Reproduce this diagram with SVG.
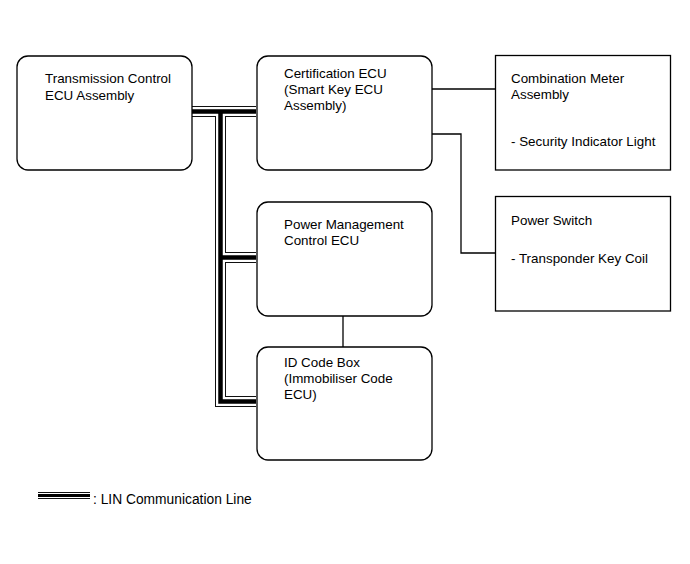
<svg xmlns="http://www.w3.org/2000/svg" width="690" height="564" viewBox="0 0 690 564">
<style>
.box{fill:#fff;stroke:#000;stroke-width:1.3}
.t{font-family:"Liberation Sans",Arial,sans-serif;font-size:13.4px;fill:#000}
.ln{fill:none;stroke:#000;stroke-width:1.3}
.lo{fill:none;stroke:#111;stroke-width:11;stroke-linejoin:miter}
.lw{fill:none;stroke:#fff;stroke-width:9;stroke-linejoin:miter}
.lc{fill:none;stroke:#000;stroke-width:4.5;stroke-linejoin:miter}
</style>
<rect width="690" height="564" fill="#fff"/>
<g id="connectors">
<path class="lo" d="M192 111.5H256M220.5 111.5V401.5H256M220.5 257.5H256"/>
<path class="lw" d="M192 111.5H256M220.5 111.5V401.5H256M220.5 257.5H256"/>
<path class="lc" d="M192 111.5H256M220.5 111.5V401.5H256M220.5 257.5H256"/>
<path class="ln" d="M432 89H495"/>
<path class="ln" d="M432 134H461V253H495"/>
<path class="ln" d="M343 316V347"/>
</g>
<g id="transmission">
<rect class="box" x="17" y="56" width="175" height="114" rx="11"/>
<text class="t" x="45" y="83">Transmission Control</text>
<text class="t" x="45" y="100">ECU Assembly</text>
</g>
<g id="certification">
<rect class="box" x="257" y="56" width="175" height="114" rx="11"/>
<text class="t" x="284" y="78">Certification ECU</text>
<text class="t" x="284" y="94">(Smart Key ECU</text>
<text class="t" x="284" y="110">Assembly)</text>
</g>
<g id="combination">
<rect class="box" x="495.5" y="55.5" width="175" height="114.5"/>
<text class="t" x="511" y="83">Combination Meter</text>
<text class="t" x="511" y="99">Assembly</text>
<text class="t" x="511" y="146">- Security Indicator Light</text>
</g>
<g id="powerswitch">
<rect class="box" x="495.5" y="196.5" width="175" height="114.5"/>
<text class="t" x="511" y="225">Power Switch</text>
<text class="t" x="511" y="263">- Transponder Key Coil</text>
</g>
<g id="powermgmt">
<rect class="box" x="257" y="202" width="175" height="114" rx="11"/>
<text class="t" x="284" y="229">Power Management</text>
<text class="t" x="284" y="245">Control ECU</text>
</g>
<g id="idcode">
<rect class="box" x="257" y="347" width="175" height="113" rx="11"/>
<text class="t" x="284" y="367">ID Code Box</text>
<text class="t" x="284" y="383">(Immobiliser Code</text>
<text class="t" x="284" y="399">ECU)</text>
</g>
<g id="legend">
<path fill="none" stroke="#111" stroke-width="7" d="M38 495.5H90"/>
<path fill="none" stroke="#fff" stroke-width="5" d="M38 495.5H90"/>
<path fill="none" stroke="#000" stroke-width="3" d="M38 495.5H90"/>
<text class="t" x="93" y="504" style="font-size:13.8px">: LIN Communication Line</text>
</g>
</svg>
